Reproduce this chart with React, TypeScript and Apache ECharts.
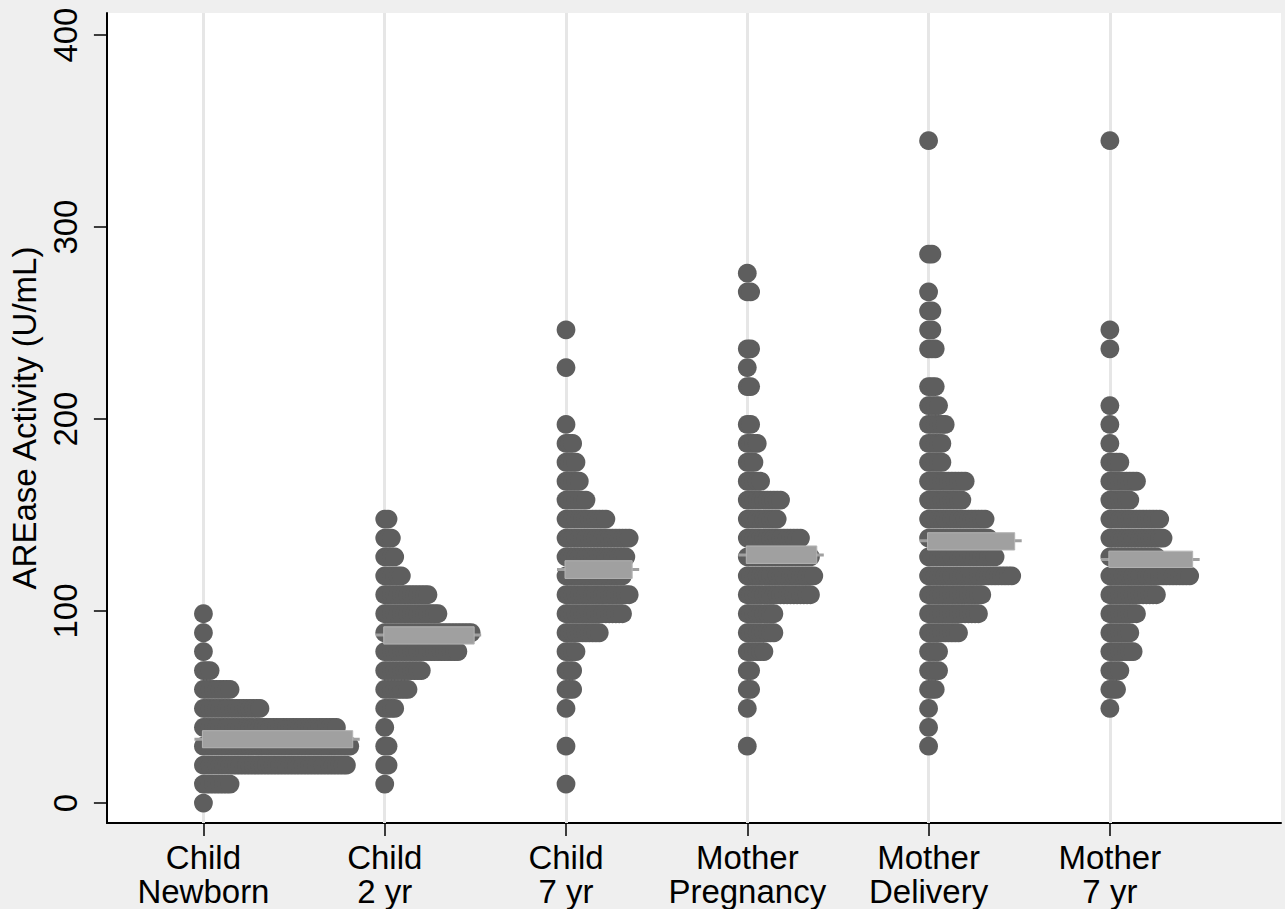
import React, { useEffect, useRef } from "react";
import * as echarts from "echarts";

// Category labels
const groupLabels = ["Child\nNewborn", "Child\n2 yr", "Child\n7 yr", "Mother\nPregnancy", "Mother\nDelivery", "Mother\n7 yr"];

// Stacked bin levels (U/mL)
const levels = [0, 9.9, 19.7, 29.6, 39.4, 49.3, 59.2, 69.0, 78.9, 88.7, 98.6, 108.5, 118.3, 128.2, 138.0, 147.9, 157.8, 167.6, 177.5, 187.3, 197.2, 207.0, 216.9, 226.8, 236.6, 246.5, 256.3, 266.2, 276.0, 285.9, 295.8, 305.6, 315.5, 325.3, 335.2, 345.0];

// Number of stacked dots per level, per group
const countsNewborn = [1, 9, 44, 45, 41, 18, 9, 3, 1, 1, 1];
const counts2yr = [0, 1, 2, 2, 1, 4, 8, 12, 23, 27, 17, 14, 6, 4, 3, 2];
const counts7yr = [0, 1, 0, 1, 0, 1, 3, 3, 4, 11, 18, 20, 18, 19, 20, 13, 7, 5, 4, 3, 1, 0, 0, 1, 0, 1];
const countsPregnancy = [0, 0, 0, 1, 0, 1, 2, 2, 6, 9, 9, 20, 21, 20, 17, 10, 11, 5, 3, 4, 2, 0, 2, 1, 2, 0, 0, 2, 1];
const countsDelivery = [0, 0, 0, 1, 1, 1, 3, 4, 4, 10, 16, 17, 26, 21, 19, 18, 11, 12, 5, 5, 6, 4, 3, 0, 3, 2, 2, 1, 0, 2, 0, 0, 0, 0, 0, 1];
const countsMother7yr = [0, 0, 0, 0, 0, 1, 3, 4, 8, 7, 9, 15, 25, 15, 17, 16, 7, 9, 4, 1, 1, 1, 0, 0, 1, 1, 0, 0, 0, 0, 0, 0, 0, 0, 0, 1];

// Mean and interval per group
const means = [33.2, 87.5, 121.7, 129.2, 136.6, 126.9];
const ciLow = [28.8, 82.8, 117.0, 124.8, 131.8, 122.7];
const ciHigh = [37.7, 91.8, 126.2, 133.9, 140.8, 131.2];

// Ticks
const yTicks = [0, 100, 200, 300, 400];
const xTicks = [1, 2, 3, 4, 5, 6];

const allCounts = [countsNewborn, counts2yr, counts7yr, countsPregnancy, countsDelivery, countsMother7yr];

const STEP = 0.01834; // horizontal stacking step in category units
const FONT = "'Liberation Sans', Arial, Helvetica, sans-serif";

export default function App() {
  const ref = useRef<HTMLDivElement>(null);

  useEffect(() => {
    if (!ref.current) return;
    const chart = echarts.init(ref.current, undefined, { renderer: "svg" });

    const dots: number[][] = [];
    allCounts.forEach((counts, g) => {
      counts.forEach((n, i) => {
        for (let k = 0; k < n; k++) {
          dots.push([g + 1 + k * STEP, levels[i]]);
        }
      });
    });

    const meanData = means.map((m, g) => [g + 1, m, ciLow[g], ciHigh[g], Math.max(...allCounts[g])]);

    chart.setOption({
      animation: false,
      backgroundColor: "#efefef",
      textStyle: { fontFamily: FONT },
      grid: {
        left: 105,
        right: 4,
        top: 13,
        bottom: 86,
        show: true,
        backgroundColor: "#ffffff",
        borderWidth: 0,
      },
      xAxis: {
        type: "value",
        min: 0.4675,
        max: 6.944,
        splitLine: { show: false },
        axisLine: { show: true, onZero: false, lineStyle: { color: "#000", width: 2 } },
        axisTick: { show: true, length: 13, customValues: xTicks, lineStyle: { color: "#000", width: 1.5 } },
        axisLabel: {
          customValues: xTicks,
          formatter: (v: number) => groupLabels[Math.round(v) - 1] ?? "",
          fontSize: 33,
          lineHeight: 34,
          color: "#000",
          margin: 17,
          fontFamily: FONT,
        },
      },
      yAxis: {
        type: "value",
        min: -10.4,
        max: 411.5,
        splitLine: { show: false },
        axisLine: { show: true, onZero: false, lineStyle: { color: "#000", width: 2 } },
        axisTick: { show: true, length: 13, customValues: yTicks, lineStyle: { color: "#000", width: 1.5 } },
        axisLabel: {
          customValues: yTicks,
          rotate: 90,
          fontSize: 33,
          color: "#000",
          margin: 25,
          fontFamily: FONT,
        },
        name: "AREase Activity (U/mL)",
        nameLocation: "middle",
        nameGap: 64,
        nameTextStyle: { fontSize: 33, color: "#000", fontFamily: FONT },
      },
      series: [
        {
          type: "line",
          data: [],
          silent: true,
          z: 1,
          markLine: {
            silent: true,
            symbol: ["none", "none"],
            z: 1,
            label: { show: false },
            lineStyle: { color: "#e6e6e6", width: 3, type: "solid" },
            data: xTicks.map((x) => ({ xAxis: x })),
          },
        },
        {
          type: "scatter",
          data: dots,
          symbol: "circle",
          symbolSize: 18.8,
          itemStyle: { color: "#5e5e5e", opacity: 1 },
          silent: true,
          z: 3,
        },
        {
          type: "custom",
          data: meanData,
          encode: { x: 0, y: 1 },
          silent: true,
          z: 4,
          renderItem: (params: any, api: any) => {
            const cat = api.value(0);
            const mean = api.value(1);
            const lo = api.value(2);
            const hi = api.value(3);
            const maxN = api.value(4);
            const p0 = api.coord([cat, mean]);
            const pEnd = api.coord([cat + (maxN - 1) * STEP, mean]);
            const yLo = api.coord([cat, lo])[1];
            const yHi = api.coord([cat, hi])[1];
            const right = pEnd[0] + 10;
            const rx = p0[0] - 1;
            return {
              type: "group",
              children: [
                {
                  type: "line",
                  shape: { x1: p0[0] - 9, y1: p0[1], x2: right, y2: p0[1] },
                  style: { stroke: "#a0a0a0", lineWidth: 3 },
                },
                {
                  type: "rect",
                  shape: { x: rx, y: yHi, width: right - 7 - rx, height: yLo - yHi },
                  style: { fill: "#a0a0a0", stroke: "#b4b4b4", lineWidth: 1 },
                },
              ],
            };
          },
        },
      ],
    });

    return () => chart.dispose();
  }, []);

  return (
    <div
      ref={ref}
      style={{ position: "absolute", left: 0, top: 0, width: "1285px", height: "909px" }}
    />
  );
}
